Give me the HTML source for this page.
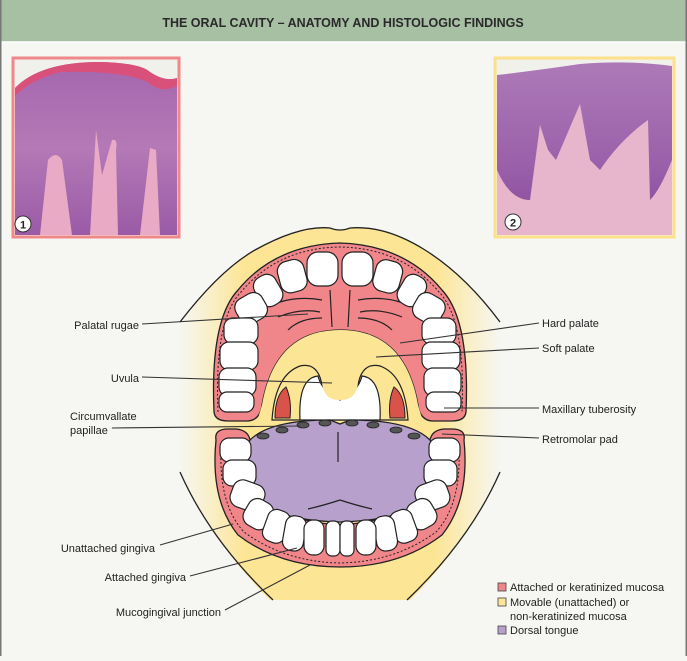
<!DOCTYPE html>
<html><head><meta charset="utf-8"><style>
html,body{margin:0;padding:0;}
body{width:687px;height:656px;overflow:hidden;background:#f6f6f2;font-family:"Liberation Sans",Arial,sans-serif;}
</style></head><body>
<svg width="687" height="656" viewBox="0 0 687 656" xmlns="http://www.w3.org/2000/svg" font-family="Liberation Sans, Arial, sans-serif">
<defs>
<linearGradient id="yg" x1="0" x2="1" y1="0" y2="0">
<stop offset="0" stop-color="#fde89a" stop-opacity="0"/>
<stop offset="0.2" stop-color="#fde596" stop-opacity="1"/>
<stop offset="0.8" stop-color="#fde596" stop-opacity="1"/>
<stop offset="1" stop-color="#fde89a" stop-opacity="0"/>
</linearGradient>
<linearGradient id="h1" x1="0" x2="0" y1="0" y2="1">
<stop offset="0" stop-color="#a566ad"/><stop offset="0.5" stop-color="#b479b6"/><stop offset="1" stop-color="#9a5aa6"/>
</linearGradient>
<linearGradient id="h2" x1="0" x2="0" y1="0" y2="1">
<stop offset="0" stop-color="#ad7ab7"/><stop offset="0.6" stop-color="#9a60aa"/><stop offset="1" stop-color="#86489a"/>
</linearGradient>
</defs>
<rect x="0" y="0" width="687" height="656" fill="#f6f6f2"/>
<rect x="0" y="0" width="687" height="42" fill="#a7bfa3"/>
<line x1="0" y1="42" x2="687" y2="42" stroke="#fff" stroke-width="1.5"/>
<rect x="0" y="0" width="1.5" height="656" fill="#777"/>
<rect x="685.5" y="0" width="1.5" height="656" fill="#777"/>
<text x="343" y="27" text-anchor="middle" font-size="12.5" font-weight="bold" fill="#2a2a2a">THE ORAL CAVITY – ANATOMY AND HISTOLOGIC FINDINGS</text>

<rect x="13" y="58" width="166" height="179" fill="#f1f1ec" stroke="#f0888a" stroke-width="3"/>
<clipPath id="c1"><rect x="15" y="60" width="162" height="175"/></clipPath>
<g clip-path="url(#c1)">
<path d="M15 88 Q40 62 100 62 Q140 63 150 72 Q165 82 177 78 L177 235 L15 235Z" fill="url(#h1)"/>
<path d="M15 88 Q40 62 100 62 Q140 63 150 72 Q165 82 177 78 L177 86 Q160 94 148 82 Q120 70 60 72 Q30 80 15 96Z" fill="#d9507a"/>
<path d="M40 235 L48 160 Q56 150 62 160 L72 235Z M90 235 L96 130 L102 175 L112 140 Q118 138 116 150 L118 235Z M140 235 L150 148 L156 150 L160 235Z" fill="#e8aac4"/>
</g>
<circle cx="23" cy="224" r="8" fill="#fff" stroke="#333" stroke-width="1"/>
<text x="23" y="228.5" text-anchor="middle" font-size="11" font-weight="bold" fill="#222">1</text>

<rect x="495" y="58" width="179" height="179" fill="#f1f1ec" stroke="#fde08a" stroke-width="3"/>
<clipPath id="c2"><rect x="497" y="60" width="175" height="175"/></clipPath>
<g clip-path="url(#c2)">
<path d="M497 75 Q540 70 580 64 Q630 60 672 66 L672 235 L497 235Z" fill="url(#h2)"/>
<path d="M497 170 Q510 200 530 200 L540 125 L548 150 L556 160 L580 104 L590 160 L600 170 Q620 140 648 120 L650 200 Q660 190 672 160 L672 235 L497 235Z" fill="#e7b6cc"/>
</g>
<circle cx="513" cy="222" r="8" fill="#fff" stroke="#333" stroke-width="1"/>
<text x="513" y="226.5" text-anchor="middle" font-size="11" font-weight="bold" fill="#222">2</text>

<path d="M180 322 Q220 270 255 250 Q300 225 330 228 Q340 232 350 228 Q385 225 425 250 Q465 275 500 322 L500 472 Q470 540 410 600 L270 600 Q210 540 180 472Z" fill="url(#yg)"/>
<path d="M180 322 Q220 270 255 250 Q300 225 330 228 Q340 232 350 228 Q385 225 425 250 Q465 275 500 322" fill="none" stroke="#222" stroke-width="1.3"/>
<path d="M180 472 Q210 540 273 600 M500 472 Q470 540 407 600" fill="none" stroke="#222" stroke-width="1.3"/>

<path d="M214 412 Q210 320 238 290 Q275 245 340 243 Q405 245 442 290 Q470 320 466 412 Q465 421 452 421 L432 421 Q420 420 418 405 Q405 330 340 330 Q275 330 262 405 Q260 420 248 421 L228 421 Q215 421 214 412Z" fill="#f0868a" stroke="#222" stroke-width="1.3"/>
<path d="M218 412 Q214 320 241 292 Q278 248 340 247 Q402 248 439 292 Q466 320 462 412" fill="none" stroke="#222" stroke-width="1" stroke-dasharray="2,2"/>
<path d="M262 405 Q275 330 340 330 Q405 330 418 405 L424 425 L256 425Z" fill="#fde596"/>
<path d="M272 420 Q275 375 300 366 Q318 362 322 385 Q325 400 340 400 Q355 400 358 385 Q362 362 380 366 Q405 375 408 420Z" fill="#fde596" stroke="#222" stroke-width="1.2"/>
<path d="M300 420 Q298 378 318 376 Q322 392 340 400 Q358 392 362 376 Q382 378 380 420Z" fill="#fff" stroke="#222" stroke-width="1.2"/>
<path d="M322 380 Q322 400 340 400 Q358 400 358 380" fill="#fde596" stroke="none"/>
<path d="M275 418 Q275 395 286 387 Q292 400 290 418Z" fill="#d9534b" stroke="#222" stroke-width="1"/>
<path d="M405 418 Q405 395 394 387 Q388 400 390 418Z" fill="#d9534b" stroke="#222" stroke-width="1"/>
<g fill="none" stroke="#222" stroke-width="1.2">
<path d="M330 290 L332 327 M350 290 L348 327"/>
<path d="M280 302 Q300 296 322 300 M278 317 Q300 308 320 312 M288 330 Q300 318 322 318"/>
<path d="M400 302 Q380 296 358 300 M402 317 Q380 308 360 312 M392 330 Q380 318 358 318"/>
</g>
<g fill="#fff" stroke="#222" stroke-width="1.2">
<rect x="307" y="252" width="31" height="34" rx="11"/>
<rect x="342" y="252" width="31" height="34" rx="11"/>
<rect x="279" y="260" width="27" height="32" rx="10" transform="rotate(-15 293 277)"/>
<rect x="374" y="260" width="27" height="32" rx="10" transform="rotate(15 386 277)"/>
<rect x="256" y="274" width="24" height="32" rx="10" transform="rotate(-30 269 290)"/>
<rect x="400" y="274" width="24" height="32" rx="10" transform="rotate(30 411 290)"/>
<rect x="236" y="294" width="30" height="28" rx="10" transform="rotate(-30 252 308)"/>
<rect x="414" y="294" width="30" height="28" rx="10" transform="rotate(30 428 308)"/>
<rect x="224" y="318" width="34" height="26" rx="9"/>
<rect x="422" y="318" width="34" height="26" rx="9"/>
<rect x="220" y="342" width="38" height="28" rx="9"/>
<rect x="422" y="342" width="38" height="28" rx="9"/>
<rect x="219" y="368" width="37" height="28" rx="9"/>
<rect x="424" y="368" width="37" height="28" rx="9"/>
<rect x="219" y="392" width="35" height="20" rx="8"/>
<rect x="426" y="392" width="35" height="20" rx="8"/>
</g>

<path d="M216 440 Q214 429 228 429 L236 429 Q248 430 250 440 L250 470 Q260 520 340 525 Q420 520 430 470 L430 440 Q432 430 444 429 L452 429 Q466 429 464 440 Q470 500 442 535 Q400 567 340 567 Q280 567 238 535 Q210 500 216 440Z" fill="#f0868a" stroke="#222" stroke-width="1.3"/>
<path d="M221 450 Q219 505 244 532 Q285 562 340 563 Q395 562 436 532 Q461 505 459 450" fill="none" stroke="#222" stroke-width="1" stroke-dasharray="2,2"/>
<path d="M250 440 Q270 420 330 420 L340 424 L350 420 Q410 420 430 440 Q440 460 428 495 Q410 520 340 522 Q270 520 252 495 Q240 460 250 440Z" fill="#b8a0cc" stroke="#222" stroke-width="1.3"/>
<g fill="#555" stroke="#222" stroke-width="0.8">
<ellipse cx="263" cy="436" rx="6" ry="3"/><ellipse cx="282" cy="430" rx="6" ry="3"/><ellipse cx="303" cy="425" rx="6" ry="3"/><ellipse cx="325" cy="423" rx="6" ry="3"/>
<ellipse cx="352" cy="423" rx="6" ry="3"/><ellipse cx="373" cy="425" rx="6" ry="3"/><ellipse cx="396" cy="430" rx="6" ry="3"/><ellipse cx="414" cy="436" rx="6" ry="3"/>
</g>
<g fill="none" stroke="#222" stroke-width="1.2">
<path d="M338 432 L338 462"/>
<path d="M308 509 Q325 505 340 500 M340 500 Q355 505 372 509"/>
</g>
<g fill="#fff" stroke="#222" stroke-width="1.2">
<rect x="220" y="438" width="31" height="24" rx="9"/>
<rect x="429" y="438" width="31" height="24" rx="9"/>
<rect x="223" y="460" width="33" height="26" rx="9"/>
<rect x="424" y="460" width="33" height="26" rx="9"/>
<rect x="231" y="482" width="33" height="28" rx="10" transform="rotate(20 248 496)"/>
<rect x="416" y="482" width="33" height="28" rx="10" transform="rotate(-20 432 496)"/>
<rect x="245" y="500" width="27" height="29" rx="10" transform="rotate(30 259 514)"/>
<rect x="408" y="500" width="27" height="29" rx="10" transform="rotate(-30 421 514)"/>
<rect x="265" y="510" width="23" height="33" rx="9" transform="rotate(20 277 526)"/>
<rect x="392" y="510" width="23" height="33" rx="9" transform="rotate(-20 403 526)"/>
<rect x="284" y="516" width="21" height="35" rx="9" transform="rotate(10 295 533)"/>
<rect x="375" y="516" width="21" height="35" rx="9" transform="rotate(-10 385 533)"/>
<rect x="304" y="520" width="20" height="35" rx="9"/>
<rect x="356" y="520" width="20" height="35" rx="9"/>
<rect x="326" y="521" width="14" height="35" rx="6"/>
<rect x="340" y="521" width="14" height="35" rx="6"/>
</g>

<g stroke="#333" stroke-width="1.1" fill="none">
<line x1="142" y1="324" x2="308" y2="314"/>
<line x1="142" y1="377" x2="332" y2="383"/>
<line x1="112" y1="428" x2="300" y2="426"/>
<line x1="160" y1="545" x2="233" y2="524"/>
<line x1="190" y1="576" x2="297" y2="548"/>
<line x1="225" y1="610" x2="310" y2="565"/>
<line x1="400" y1="343" x2="539" y2="323"/>
<line x1="376" y1="357" x2="539" y2="348"/>
<line x1="444" y1="408" x2="539" y2="408"/>
<line x1="442" y1="434" x2="539" y2="438"/>
</g>
<g font-size="11" fill="#222">
<text x="139" y="329" text-anchor="end">Palatal rugae</text>
<text x="139" y="382" text-anchor="end">Uvula</text>
<text x="70" y="420">Circumvallate</text>
<text x="70" y="434">papillae</text>
<text x="155" y="552" text-anchor="end">Unattached gingiva</text>
<text x="186" y="581" text-anchor="end">Attached gingiva</text>
<text x="221" y="616" text-anchor="end">Mucogingival junction</text>
<text x="542" y="327">Hard palate</text>
<text x="542" y="352">Soft palate</text>
<text x="542" y="413">Maxillary tuberosity</text>
<text x="542" y="443">Retromolar pad</text>
</g>
<rect x="498" y="583" width="8" height="8" fill="#f0868a" stroke="#444" stroke-width="0.8"/>
<rect x="498" y="598" width="8" height="8" fill="#fde596" stroke="#444" stroke-width="0.8"/>
<rect x="498" y="626" width="8" height="8" fill="#b8a0cc" stroke="#444" stroke-width="0.8"/>
<g font-size="11" fill="#222">
<text x="510" y="591">Attached or keratinized mucosa</text>
<text x="510" y="606">Movable (unattached) or</text>
<text x="510" y="620">non-keratinized mucosa</text>
<text x="510" y="634">Dorsal tongue</text>
</g>
</svg>
</body></html>
